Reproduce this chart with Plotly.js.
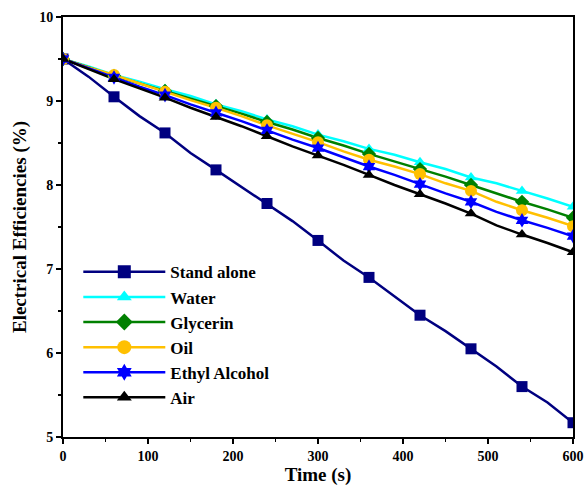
<!DOCTYPE html>
<html><head><meta charset="utf-8">
<script src="https://cdn.plot.ly/plotly-3.0.1.min.js"></script>
<style>html,body{margin:0;padding:0;background:#fff}#c{width:584px;height:486px}</style>
</head><body><div id="c"></div>
<script>
// time points (every 30 s) ; markers every 60 s
const time = [0,30,60,90,120,150,180,210,240,270,300,330,360,390,420,450,480,510,540,570,600];
const markerTime = [0,60,120,180,240,300,360,420,480,540,600];
const names = ["Stand alone","Water","Glycerin","Oil","Ethyl Alcohol","Air"];
const standAlone = [9.5,9.29,9.05,8.82,8.62,8.38,8.18,7.98,7.78,7.57,7.34,7.10,6.90,6.68,6.45,6.26,6.05,5.84,5.60,5.41,5.17];
const water      = [9.5,9.41,9.31,9.23,9.14,9.06,8.96,8.88,8.78,8.70,8.60,8.52,8.43,8.36,8.27,8.19,8.09,8.02,7.93,7.84,7.74];
const glycerin   = [9.5,9.40,9.30,9.21,9.12,9.03,8.94,8.85,8.75,8.66,8.56,8.47,8.37,8.28,8.19,8.10,8.00,7.90,7.80,7.71,7.61];
const oil        = [9.5,9.40,9.31,9.21,9.11,9.01,8.92,8.82,8.71,8.61,8.51,8.40,8.30,8.22,8.13,8.02,7.93,7.80,7.70,7.61,7.51];
const ethyl      = [9.5,9.39,9.28,9.17,9.07,8.96,8.86,8.76,8.65,8.54,8.44,8.33,8.22,8.12,8.01,7.90,7.80,7.68,7.58,7.49,7.39];
const air        = [9.5,9.38,9.26,9.15,9.04,8.92,8.81,8.70,8.58,8.46,8.35,8.24,8.12,8.00,7.89,7.78,7.66,7.52,7.41,7.31,7.20];
const colors = ["#000080","#00FFFF","#008000","#FFC000","#0000FF","#000000"];
const symbols = ["square","triangle-up","diamond","circle","hexagram","triangle-up"];
const sizes = [11,11,11,12,11,11];

const series = [standAlone, water, glycerin, oil, ethyl, air];
const traces = [];
series.forEach((ys, i) => {
  traces.push({x: time, y: ys, mode: "lines", line: {color: colors[i], width: 2.5}, showlegend: false, hoverinfo: "skip"});
});
series.forEach((ys, i) => {
  const mx = [], my = [];
  time.forEach((t, k) => { if (markerTime.includes(t)) { mx.push(t); my.push(ys[k]); } });
  traces.push({x: mx, y: my, mode: "markers", marker: {color: colors[i], symbol: symbols[i], size: sizes[i]}, showlegend: false});
});
series.forEach((ys, i) => {
  traces.push({x: [null], y: [null], name: "<b>" + names[i] + "</b>", mode: "lines+markers",
    line: {color: colors[i], width: 2.5}, marker: {color: colors[i], symbol: symbols[i], size: sizes[i] + 2}});
});

const fontFam = "Liberation Serif, Times New Roman, serif";
const layout = {
  width: 584, height: 486,
  margin: {l: 63, r: 11, t: 17, b: 49},
  paper_bgcolor: "#fff", plot_bgcolor: "#fff",
  font: {family: fontFam, color: "#000", size: 14, weight: "bold"},
  xaxis: {range: [0, 600], dtick: 100, tick0: 0, showgrid: false, zeroline: false,
    showline: true, linecolor: "#000", linewidth: 2, mirror: true,
    ticks: "outside", ticklen: 5, tickwidth: 1.5, tickcolor: "#000",
    minor: {dtick: 50, ticks: "outside", ticklen: 3, tickwidth: 1.5, tickcolor: "#000"},
    tickfont: {family: fontFam, size: 14, weight: "bold"},
    title: {text: "<b>Time (s)</b>", font: {family: fontFam, size: 19, weight: "bold"}, standoff: 2}},
  yaxis: {range: [5, 10], dtick: 1, tick0: 5, showgrid: false, zeroline: false,
    showline: true, linecolor: "#000", linewidth: 2, mirror: true,
    ticks: "outside", ticklen: 5, tickwidth: 1.5, tickcolor: "#000",
    minor: {dtick: 0.5, ticks: "outside", ticklen: 3, tickwidth: 1.5, tickcolor: "#000"},
    tickfont: {family: fontFam, size: 14, weight: "bold"},
    title: {text: "<b>Electrical Efficiencies (%)</b>", font: {family: fontFam, size: 19, weight: "bold"}, standoff: 8}},
  legend: {x: 0.03, y: 0.435, xanchor: "left", yanchor: "top", bgcolor: "rgba(0,0,0,0)",
    font: {family: fontFam, size: 17, weight: "bold"}, itemwidth: 82, tracegroupgap: 0}
};
Plotly.newPlot("c", traces, layout, {displayModeBar: false, staticPlot: true});
</script></body></html>
